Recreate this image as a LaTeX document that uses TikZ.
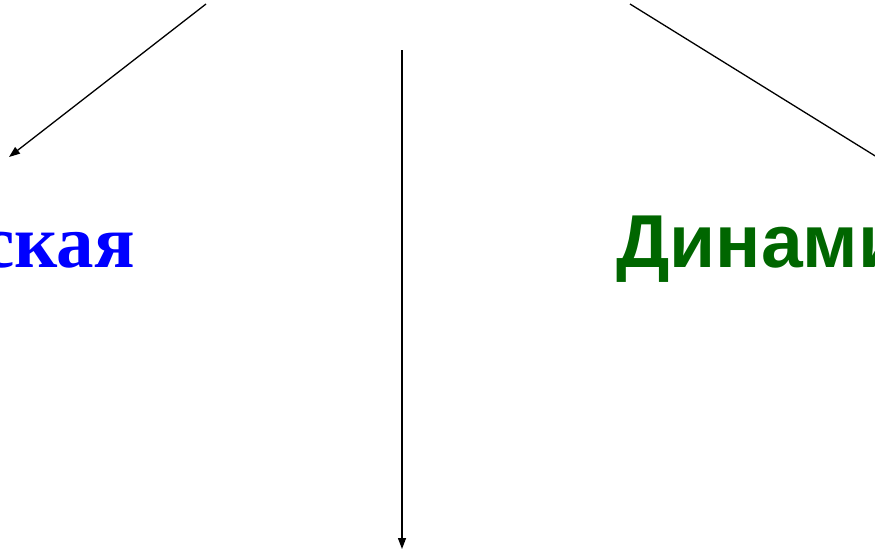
\documentclass[tikz,border=0pt]{standalone}
\usepackage{fontspec}
\setmainfont{Liberation Serif}
\newfontfamily\headsans{Liberation Sans}
\usepackage{tikz}
\usetikzlibrary{arrows.meta,positioning}
\usepackage{xcolor}
\definecolor{statblue}{RGB}{0,0,255}
\definecolor{dyngreen}{RGB}{0,102,0}
\tikzset{
  kindlabel/.style={inner sep=0pt,font=\bfseries\fontsize{75}{85}\selectfont,text=statblue},
  kindlabelg/.style={kindlabel,font=\headsans\bfseries\fontsize{75}{85}\selectfont,text=dyngreen},
  splitedge/.style={-{Triangle[length=11pt,width=8pt]},line width=1.3pt,draw=black}
}
\begin{document}
\begin{tikzpicture}[x=1pt,y=-1pt]
  \useasboundingbox (0,0) rectangle (875,549);
  \clip (0,0) rectangle (875,549);
  % free ends of the three connectors
  \coordinate (lstart) at (206,4);
  \coordinate (lend) at (9,157);
  \coordinate (mstart) at (402,50);
  \coordinate (mend) at (402,549);
  \coordinate (rstart) at (630,4);
  \coordinate (rend) at (893,167);
  \node[kindlabel,anchor=base east] (stat) at (135,267) {ская};
  \node[kindlabelg,anchor=base west] (dyn) at (616,267) {Динами};
  \draw[splitedge] (lstart) -- (lend);
  \draw[splitedge] (mstart) -- (mend);
  \draw[splitedge] (rstart) -- (rend);
\end{tikzpicture}
\end{document}
